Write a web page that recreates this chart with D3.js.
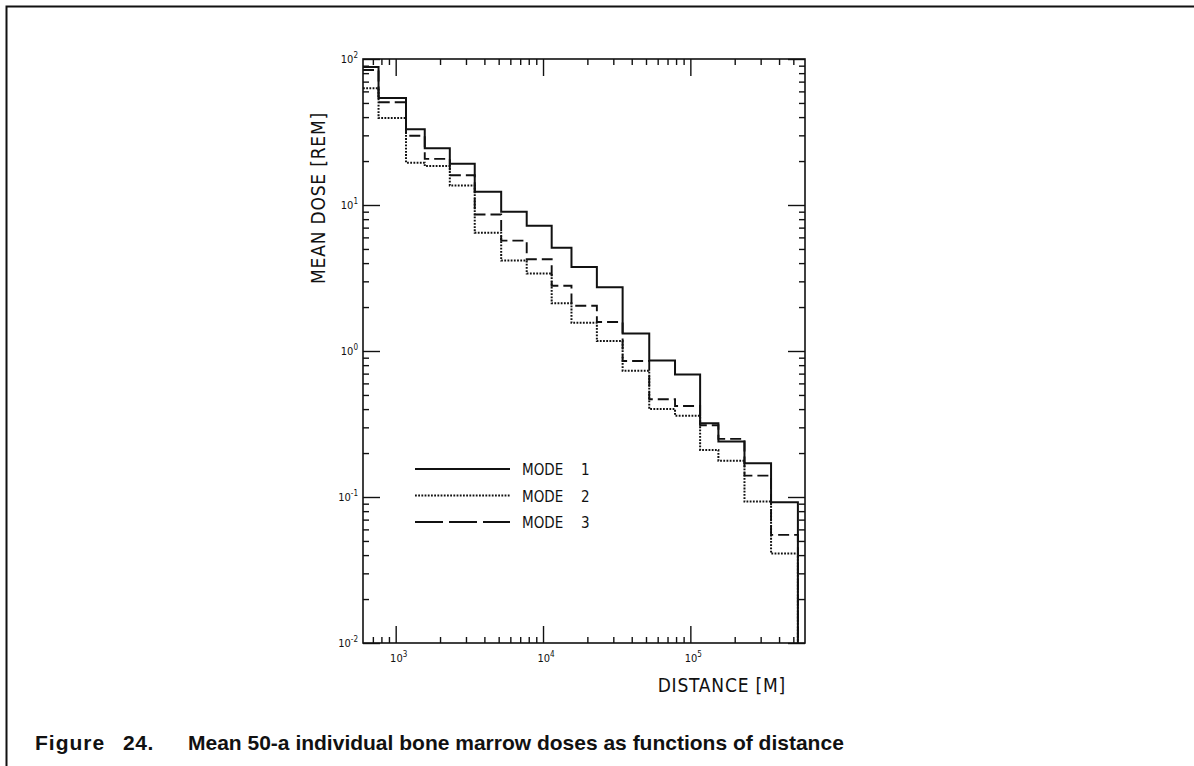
<!DOCTYPE html>
<html>
<head>
<meta charset="utf-8">
<script src="https://cdn.jsdelivr.net/npm/d3@7"></script>
<style>
  html, body { margin: 0; padding: 0; background: #fff; }
  .plotter { font-family: 'DejaVu Sans Condensed', 'DejaVu Sans', sans-serif; font-stretch: condensed; fill: #111; }
  .caption { font-family: 'Liberation Sans', Arial, sans-serif; font-weight: bold; fill: #111; }
  .tick line { stroke: #111; stroke-width: 1.4; }
</style>
</head>
<body>
<div class="chart"></div>
<script>
// step edges along distance (m) and mean dose (rem) for each step
const distEdges = [600, 765, 1175, 1575, 2330, 3440, 5200, 7750, 11450, 15600,
  23200, 34700, 52600, 78700, 116500, 155000, 233000, 353000, 537000];
const mode1 = [88, 54, 33, 24.5, 19.2, 12.3, 9.0, 7.2, 5.1, 3.76,
  2.73, 1.32, 0.86, 0.69, 0.32, 0.24, 0.17, 0.092];
const mode2 = [63, 39.4, 19.5, 18.5, 13.6, 6.46, 4.16, 3.4, 2.12, 1.56,
  1.17, 0.733, 0.40, 0.36, 0.21, 0.177, 0.093, 0.041];
const mode3 = [84, 50.5, 29.8, 20.7, 16.0, 8.6, 5.7, 4.25, 2.8, 2.04,
  1.58, 0.855, 0.467, 0.42, 0.31, 0.25, 0.14, 0.055];
const seriesNames = ['MODE', 'MODE', 'MODE'];
const seriesNums = ['1', '2', '3'];

const xMajor = [1e3, 1e4, 1e5];
const xMajorExp = ['3', '4', '5'];
const xMinor = [700, 800, 900, 2000, 3000, 4000, 5000, 6000, 7000, 8000, 9000,
  20000, 30000, 40000, 50000, 60000, 70000, 80000, 90000,
  200000, 300000, 400000, 500000];
const yMajor = [0.01, 0.1, 1, 10, 100];
const yMajorExp = ['-2', '-1', '0', '1', '2'];
const yMinor = [0.02, 0.03, 0.04, 0.05, 0.06, 0.07, 0.08, 0.09,
  0.2, 0.3, 0.4, 0.5, 0.6, 0.7, 0.8, 0.9,
  2, 3, 4, 5, 6, 7, 8, 9,
  20, 30, 40, 50, 60, 70, 80, 90];

const FULL_WIDTH = 1194;
const FULL_HEIGHT = 766;
const margin = { top: 59, left: 363 };
const width = 442;
const height = 584;
const MINOR = 6;
const MAJOR = 17;

const svg = d3.select('.chart')
  .append('svg')
    .attr('width', FULL_WIDTH)
    .attr('height', FULL_HEIGHT);

// page border (top and left only, as on the scanned page)
svg.append('path')
  .attr('d', `M6.5,${FULL_HEIGHT} V6.5 H${FULL_WIDTH}`)
  .attr('fill', 'none')
  .attr('stroke', '#111')
  .attr('stroke-width', 2);

const g = svg.append('g')
  .attr('transform', `translate(${margin.left}, ${margin.top})`);

const xScale = d3.scaleLog()
  .domain([600, 600000])
  .range([0, width]);

const yScale = d3.scaleLog()
  .domain([0.01, 100])
  .range([height, 0]);

// inward ticks on all four sides
function addAxis (axisFn, values, size, transform) {
  const a = g.append('g')
    .attr('transform', transform)
    .call(axisFn.tickValues(values).tickSize(-size).tickFormat(''));
  a.select('.domain').remove();
  return a;
}
addAxis(d3.axisBottom(xScale), xMinor, MINOR, `translate(0, ${height})`);
addAxis(d3.axisBottom(xScale), xMajor, MAJOR, `translate(0, ${height})`);
addAxis(d3.axisTop(xScale), xMinor, MINOR, 'translate(0, 0)');
addAxis(d3.axisTop(xScale), xMajor, MAJOR, 'translate(0, 0)');
addAxis(d3.axisLeft(yScale), yMinor, MINOR, 'translate(0, 0)');
addAxis(d3.axisLeft(yScale), yMajor, MAJOR, 'translate(0, 0)');
addAxis(d3.axisRight(yScale), yMinor, MINOR, `translate(${width}, 0)`);
addAxis(d3.axisRight(yScale), yMajor, MAJOR, `translate(${width}, 0)`);

g.append('rect')
  .attr('width', width)
  .attr('height', height)
  .attr('fill', 'none')
  .attr('stroke', '#111')
  .attr('stroke-width', 1.6);

// power-of-ten labels
const xLab = g.selectAll('.xlab')
  .data(xMajor)
  .enter()
  .append('text')
    .attr('class', 'plotter')
    .attr('x', d => xScale(d) + 3)
    .attr('y', height + 19)
    .attr('text-anchor', 'middle')
    .style('font-size', '11px');
xLab.append('tspan').text('10');
xLab.append('tspan')
  .attr('dy', -5)
  .style('font-size', '8px')
  .text((d, i) => xMajorExp[i]);

const yLab = g.selectAll('.ylab')
  .data(yMajor)
  .enter()
  .append('text')
    .attr('class', 'plotter')
    .attr('x', -5)
    .attr('y', d => yScale(d) + 4)
    .attr('text-anchor', 'end')
    .style('font-size', '11px');
yLab.append('tspan').text('10');
yLab.append('tspan')
  .attr('dy', -5)
  .style('font-size', '8px')
  .text((d, i) => yMajorExp[i]);

// axis titles
svg.append('text')
  .attr('class', 'plotter')
  .attr('transform', 'translate(325, 198) rotate(-90)')
  .attr('text-anchor', 'middle')
  .style('font-size', '19px')
  .style('letter-spacing', '0.8px')
  .text('MEAN DOSE [REM]');

svg.append('text')
  .attr('class', 'plotter')
  .attr('x', 786)
  .attr('y', 692)
  .attr('text-anchor', 'end')
  .style('font-size', '19px')
  .style('letter-spacing', '0.8px')
  .text('DISTANCE [M]');

// step curves
const styles = [
  { width: 2, dash: null, legendDash: null },
  { width: 2, dash: '1.8,1.4', legendDash: '1.8,1.4' },
  { width: 1.9, dash: '11,5', legendDash: '28,6' }
];
const allModes = [mode1, mode2, mode3];

const line = d3.line()
  .x(d => xScale(d[0]))
  .y(d => yScale(d[1]))
  .curve(d3.curveStepAfter);

allModes.forEach((vals, k) => {
  const pts = vals.map((v, i) => [distEdges[i], v]);
  pts.push([distEdges[distEdges.length - 1], 0.01]);
  g.append('path')
    .datum(pts)
    .attr('d', line)
    .attr('fill', 'none')
    .attr('stroke', '#111')
    .attr('stroke-width', styles[k].width)
    .attr('stroke-dasharray', styles[k].dash);
});

// legend
const legend = svg.append('g').attr('transform', 'translate(415, 469)');
seriesNums.forEach((num, k) => {
  const row = legend.append('g').attr('transform', `translate(0, ${k * 26.5})`);
  row.append('line')
    .attr('x1', 0).attr('x2', 95)
    .attr('stroke', '#111')
    .attr('stroke-width', styles[k].width)
    .attr('stroke-dasharray', styles[k].legendDash);
  row.append('text')
    .attr('class', 'plotter')
    .attr('x', 107).attr('y', 6)
    .style('font-size', '15px')
    .text(seriesNames[k]);
  row.append('text')
    .attr('class', 'plotter')
    .attr('x', 166).attr('y', 6)
    .style('font-size', '15px')
    .text(num);
});

// caption
const caption = svg.append('text')
  .attr('class', 'caption')
  .attr('y', 750)
  .style('font-size', '21px');
caption.append('tspan').attr('x', 35).style('letter-spacing', '1px').text('Figure');
caption.append('tspan').attr('x', 123).style('letter-spacing', '0.6px').text('24.');
caption.append('tspan').attr('x', 188)
  .text('Mean 50-a individual bone marrow doses as functions of distance');
</script>
</body>
</html>
